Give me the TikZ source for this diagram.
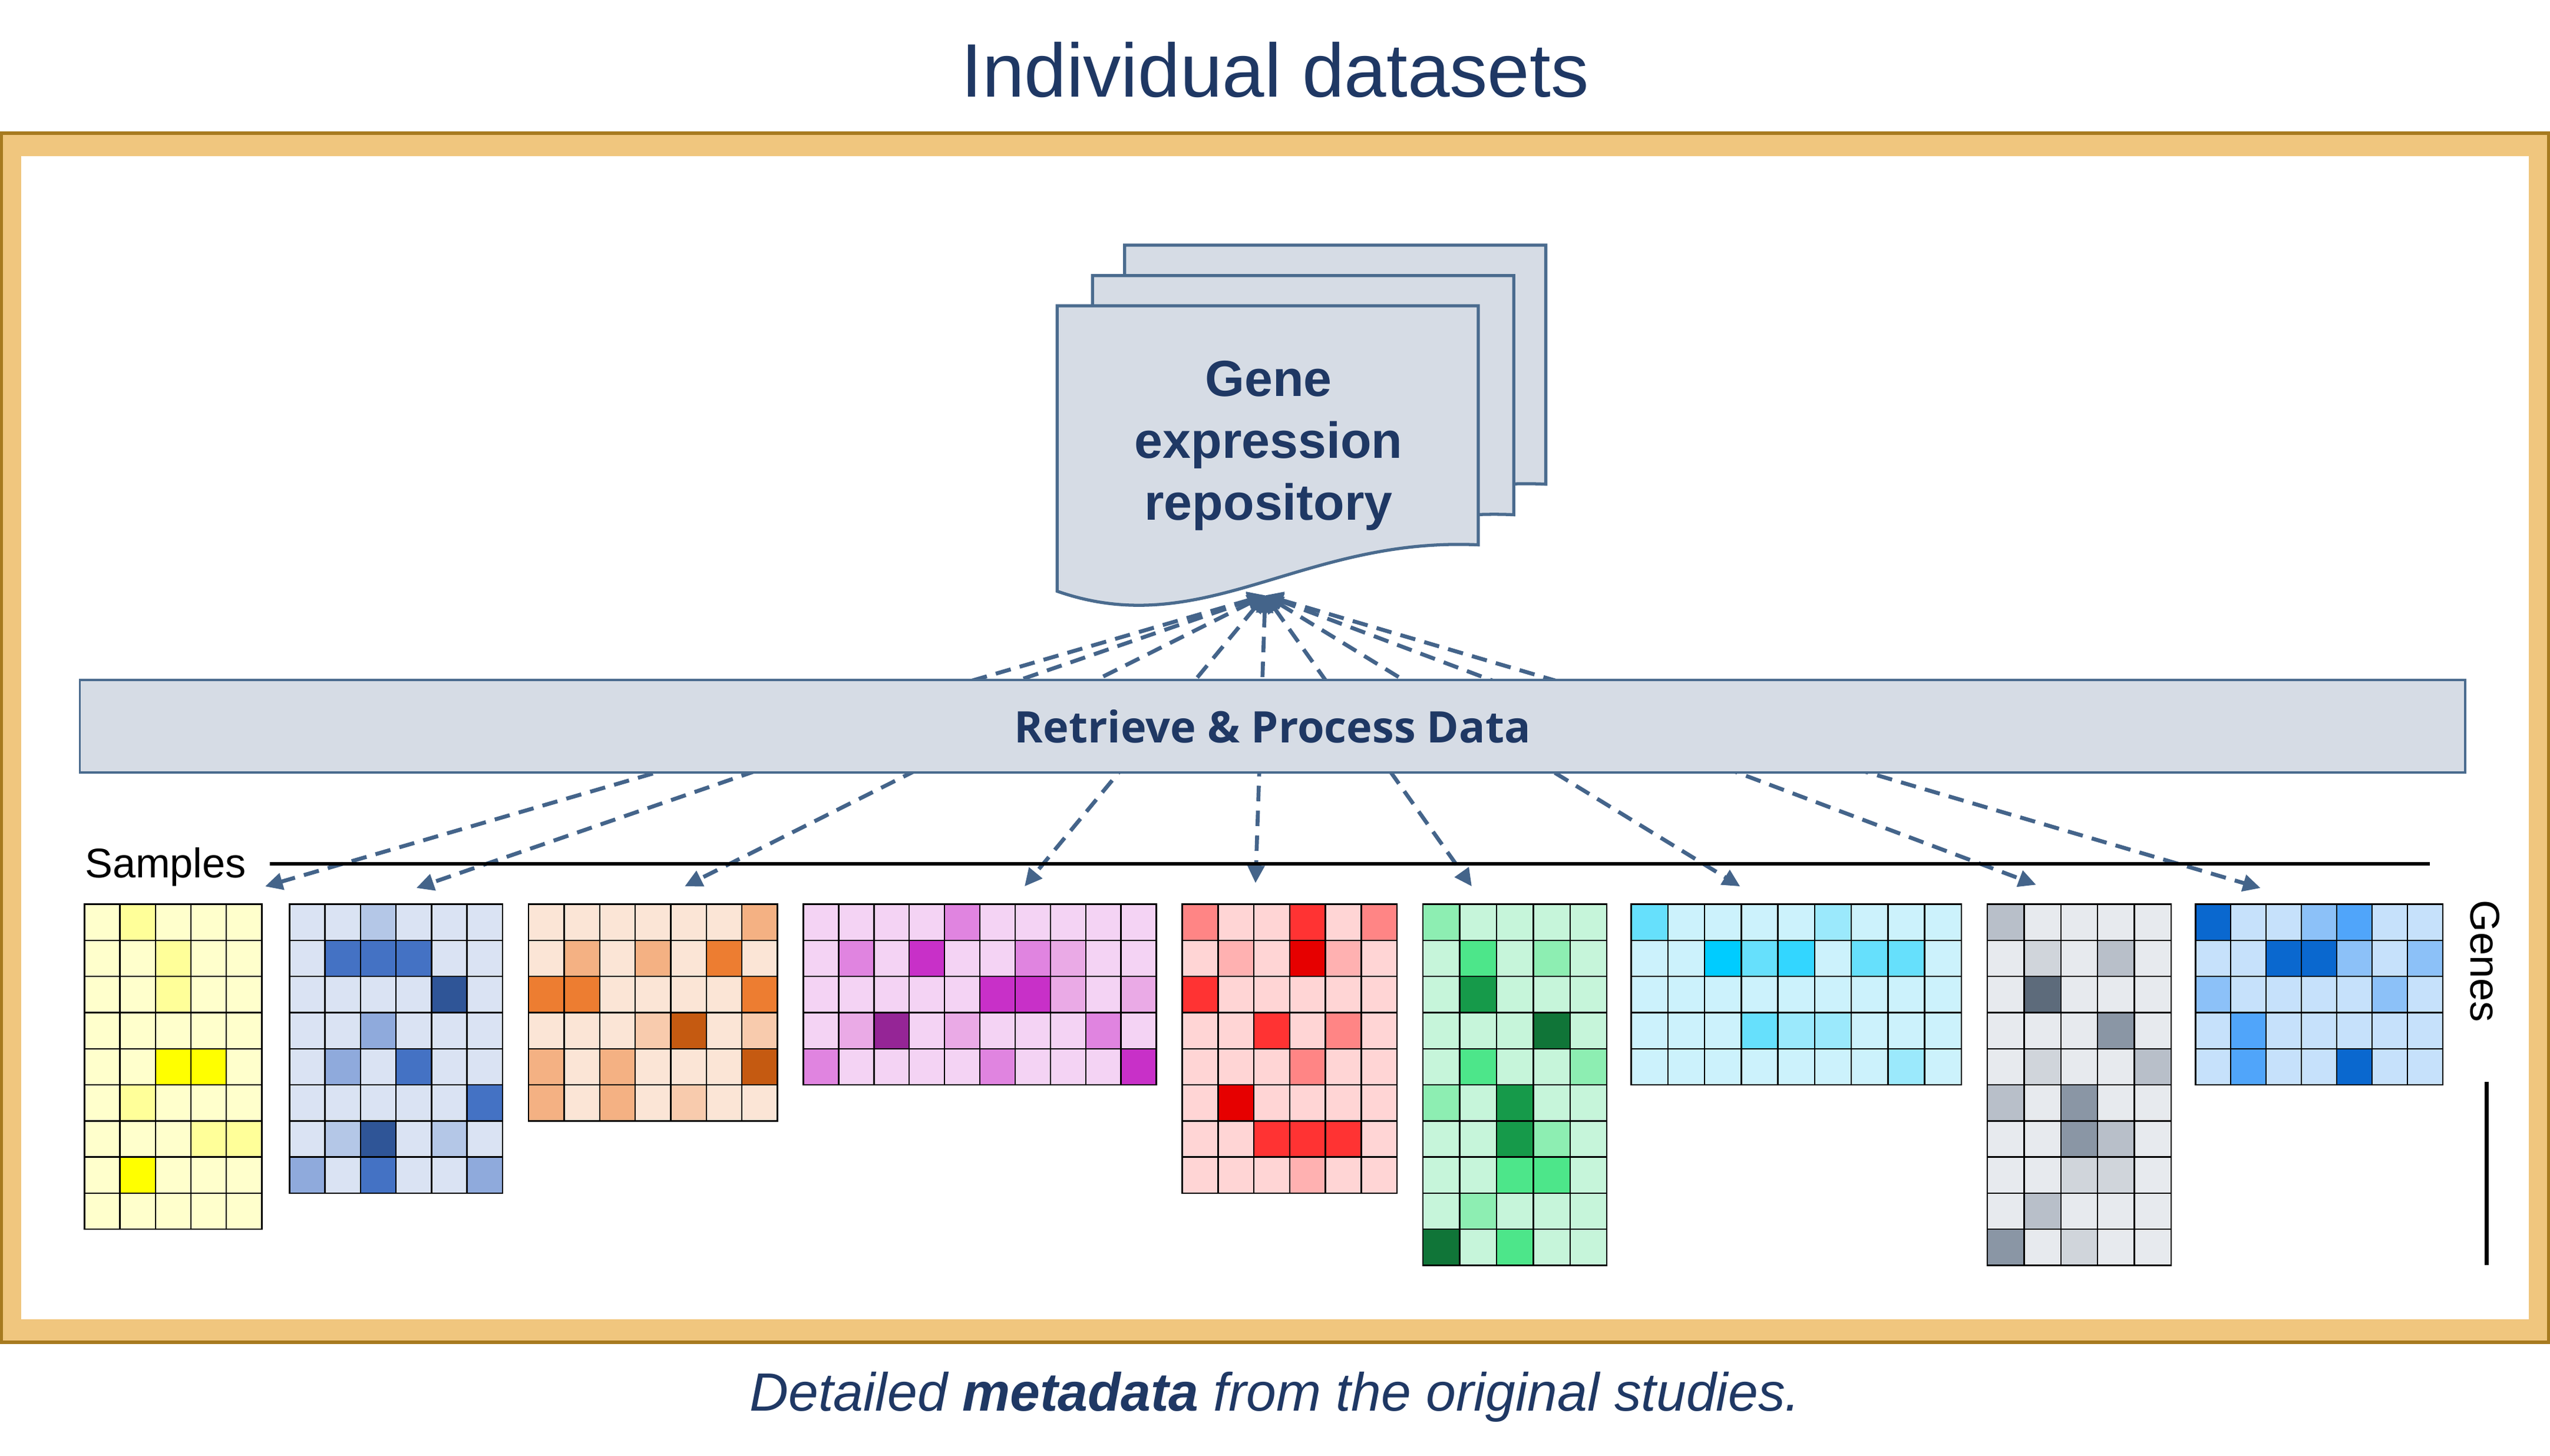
\documentclass[tikz,border=0pt]{standalone}
\usepackage{fontspec}
\setmainfont{Liberation Sans}
\newfontfamily\opensans{Open Sans}
\usepackage{tikz}
\usetikzlibrary{arrows.meta}

\definecolor{navy}{HTML}{1F3864}
\definecolor{framegold}{HTML}{F0C67E}
\definecolor{frameedge}{HTML}{A77A20}
\definecolor{docfill}{HTML}{D6DCE5}
\definecolor{docline}{HTML}{4A6B8E}
\definecolor{linkcol}{HTML}{44648A}
% heat map shades, 0 = lowest
\definecolor{ylw0}{HTML}{FFFFCC}\definecolor{ylw1}{HTML}{FFFF99}\definecolor{ylw3}{HTML}{FFFF00}
\definecolor{blu0}{HTML}{DAE3F3}\definecolor{blu1}{HTML}{B4C7E7}\definecolor{blu2}{HTML}{8FAADC}\definecolor{blu3}{HTML}{4472C4}\definecolor{blu4}{HTML}{2F5597}
\definecolor{org0}{HTML}{FBE5D6}\definecolor{org1}{HTML}{F8CBAD}\definecolor{org2}{HTML}{F4B183}\definecolor{org3}{HTML}{ED7D31}\definecolor{org4}{HTML}{C55A11}
\definecolor{mag0}{HTML}{F4D3F4}\definecolor{mag1}{HTML}{EAAAE6}\definecolor{mag2}{HTML}{E084E0}\definecolor{mag3}{HTML}{C830C8}\definecolor{mag4}{HTML}{952596}
\definecolor{rd0}{HTML}{FFD5D5}\definecolor{rd1}{HTML}{FFB1B1}\definecolor{rd2}{HTML}{FF8585}\definecolor{rd3}{HTML}{FF3333}\definecolor{rd4}{HTML}{E60000}
\definecolor{grn0}{HTML}{C6F5DA}\definecolor{grn1}{HTML}{8DEEB2}\definecolor{grn2}{HTML}{4DE68A}\definecolor{grn3}{HTML}{169A4A}\definecolor{grn4}{HTML}{107538}
\definecolor{cyn0}{HTML}{CCF2FC}\definecolor{cyn1}{HTML}{9BE9FC}\definecolor{cyn2}{HTML}{66E0FC}\definecolor{cyn3}{HTML}{33D6FF}\definecolor{cyn4}{HTML}{00CCFF}
\definecolor{gry0}{HTML}{E7EAEE}\definecolor{gry1}{HTML}{D0D5DB}\definecolor{gry2}{HTML}{B8BFC9}\definecolor{gry3}{HTML}{8A96A5}\definecolor{gry4}{HTML}{5D6B7B}
\definecolor{sky0}{HTML}{C6E1FB}\definecolor{sky1}{HTML}{8CC1F8}\definecolor{sky2}{HTML}{50A5FA}\definecolor{sky3}{HTML}{0A68CF}

\tikzset{
  cell/.style={draw=black, line width=0.7pt},
  doc/.style={draw=docline, fill=docfill, line width=1.5pt},
  link/.style={draw=linkcol, line width=1.9pt, dash pattern=on 7.5pt off 4.5pt, <->},
  >={Triangle[length=8.5pt,width=8pt]},
}

% #1 left, #2 right, #3 columns, #4 shade prefix, #5 rows of shade levels
\newcommand{\heatgrid}[5]{%
  \pgfmathsetmacro{\cellw}{(#2-#1)/#3}
  \foreach \row [count=\r] in {#5} {
    \foreach \v [count=\c] in \row {
      \draw[cell, fill=#4\v] ({#1+(\c-1)*\cellw},{556+(\r-1)*22.2}) rectangle ++(\cellw,22.2);
    }
  }
}

\begin{document}
\begin{tikzpicture}[x=0.027602cm, y=-0.027602cm]
\useasboundingbox (0,0) rectangle (1568,895);
% frame
\fill[framegold] (0,81) rectangle (1568,826);
\fill[white] (13,96) rectangle (1555,811);
\draw[frameedge, line width=1.6pt] (0.8,81.8) rectangle (1567.2,825.2);
\node[font=\fontsize{36.6}{43}\selectfont, text=navy] (title) at (784,43) {Individual datasets};

% stack of repository sheets
\foreach \dx/\dy in {41.5/-37.3, 21.8/-18.5, 0/0}
  \draw[doc, shift={(\dx,\dy)}] (650,188) -- (909,188) -- (909,335)
    .. controls (800,330) and (740,395) .. (650,363.5) -- cycle;
\node[font=\fontsize{24.5}{29.8}\selectfont\bfseries, text=navy, align=center] (repo) at (780,274) {Gene\\expression\\repository};
\coordinate (src) at (778,366);

% where the links end, one per dataset
\coordinate (t1) at (163,545);
\coordinate (t2) at (256,546);
\coordinate (t3) at (421,545);
\coordinate (t4) at (630,545);
\coordinate (t5) at (772,543);
\coordinate (t6) at (905,545);
\coordinate (t7) at (1070,545);
\coordinate (t8) at (1252,544);
\coordinate (t9) at (1390,546);
\foreach \i in {1,...,9}
  \draw[link] (src) -- (t\i);

\node[draw=docline, fill=docfill, line width=1.1pt, minimum width=40.49cm, minimum height=1.573cm,
  font=\opensans\fontsize{21}{25}\selectfont\bfseries, text=navy] (retrieve) at (782.5,446.5) {Retrieve \& Process Data};

% axes
\node[anchor=west, inner sep=0, font=\fontsize{20}{24}\selectfont] (samples) at (52,533) {Samples};
\draw[line width=1.7pt] (166,531) -- (1494,531);
\node[rotate=-90, inner sep=0, font=\fontsize{20}{24}\selectfont] (genes) at (1528,591) {Genes};
\draw[line width=2.1pt] (1529,665) -- (1529,778);

% datasets
\heatgrid{52}{161}{5}{ylw}{{0,1,0,0,0},{0,0,1,0,0},{0,0,1,0,0},{0,0,0,0,0},{0,0,3,3,0},{0,1,0,0,0},{0,0,0,1,1},{0,3,0,0,0},{0,0,0,0,0}}
\heatgrid{178}{309}{6}{blu}{{0,0,1,0,0,0},{0,3,3,3,0,0},{0,0,0,0,4,0},{0,0,2,0,0,0},{0,2,0,3,0,0},{0,0,0,0,0,3},{0,1,4,0,1,0},{2,0,3,0,0,2}}
\heatgrid{325}{478}{7}{org}{{0,0,0,0,0,0,2},{0,2,0,2,0,3,0},{3,3,0,0,0,0,3},{0,0,0,1,4,0,1},{2,0,2,0,0,0,4},{2,0,2,0,1,0,0}}
\heatgrid{494}{711}{10}{mag}{{0,0,0,0,2,0,0,0,0,0},{0,2,0,3,0,0,2,1,0,0},{0,0,0,0,0,3,3,1,0,1},{0,1,4,0,1,0,0,0,2,0},{2,0,0,0,0,2,0,0,0,3}}
\heatgrid{727}{859}{6}{rd}{{2,0,0,3,0,2},{0,1,0,4,1,0},{3,0,0,0,0,0},{0,0,3,0,2,0},{0,0,0,2,0,0},{0,4,0,0,0,0},{0,0,3,3,3,0},{0,0,0,1,0,0}}
\heatgrid{875}{988}{5}{grn}{{1,0,0,0,0},{0,2,0,1,0},{0,3,0,0,0},{0,0,0,4,0},{0,2,0,0,1},{1,0,3,0,0},{0,0,3,1,0},{0,0,2,2,0},{0,1,0,0,0},{4,0,2,0,0}}
\heatgrid{1003}{1206}{9}{cyn}{{2,0,0,0,0,1,0,0,0},{0,0,4,2,3,0,2,2,0},{0,0,0,0,0,0,0,0,0},{0,0,0,2,1,1,0,0,0},{0,0,0,0,0,0,0,1,0}}
\heatgrid{1222}{1335}{5}{gry}{{2,0,0,0,0},{0,1,0,2,0},{0,4,0,0,0},{0,0,0,3,0},{0,1,0,0,2},{2,0,3,0,0},{0,0,3,2,0},{0,0,1,1,0},{0,2,0,0,0},{3,0,1,0,0}}
\heatgrid{1350}{1502}{7}{sky}{{3,0,0,1,2,0,0},{0,0,3,3,1,0,1},{1,0,0,0,0,1,0},{0,2,0,0,0,0,0},{0,2,0,0,3,0,0}}

\node[font=\fontsize{26}{31}\selectfont\itshape, text=navy] (caption) at (784,859) {Detailed \textbf{metadata} from the original studies.};
\end{tikzpicture}
\end{document}
